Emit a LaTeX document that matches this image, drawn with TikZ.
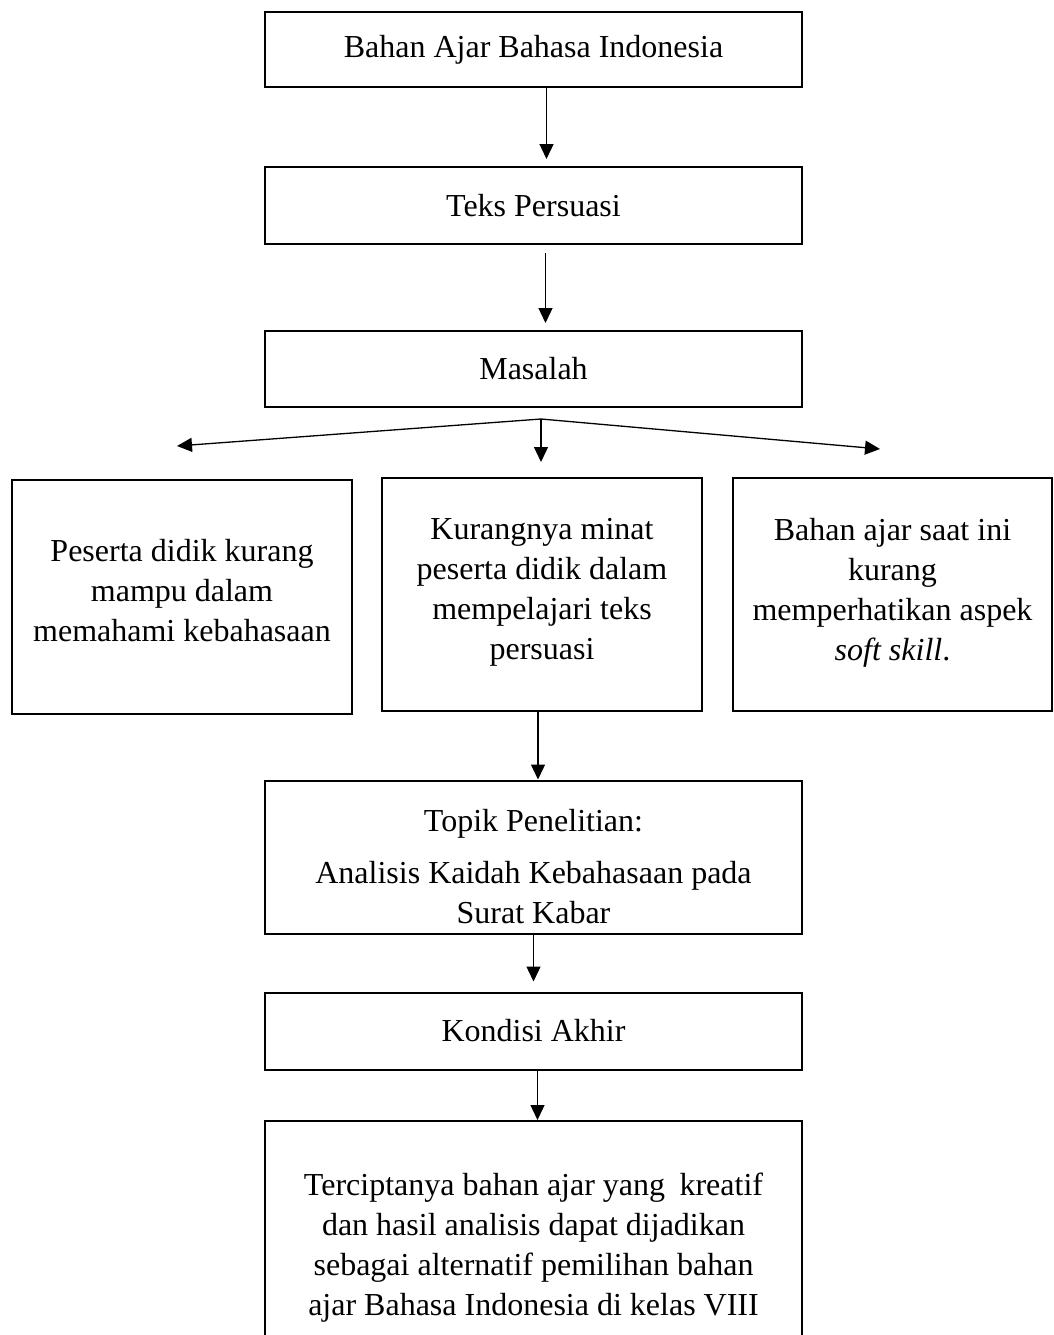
\documentclass[tikz,border=0pt]{standalone}
\usepackage{fontspec}
\setmainfont{Liberation Serif}
\usetikzlibrary{arrows.meta}
\begin{document}
\begin{tikzpicture}[x=1pt,y=-1pt,
  box/.style={draw, line width=2pt, align=center, inner sep=0pt,
    font=\fontsize{32}{40}\selectfont},
  arr/.style={line width=1.3pt, -{Triangle[length=15pt,width=14pt]}}]
\useasboundingbox[fill=white] (0,0) rectangle (1054,1335);
\begin{scope}
\clip (0,0) rectangle (1054,1335);
\node[box, minimum width=537, minimum height=75] (b1) at (533.5,49.5) {Bahan Ajar Bahasa Indonesia};
\node[box, minimum width=537, minimum height=77] (b2) at (533.5,205.5) {Teks Persuasi};
\node[box, minimum width=537, minimum height=76] (b3) at (533.5,369) {Masalah};
\node[box, minimum width=340, minimum height=234] (pl) at (182,597) {Peserta didik kurang\\mampu dalam\\memahami kebahasaan\\[-26pt]\mbox{}};
\node[box, minimum width=320, minimum height=233] (pm) at (542,594) {Kurangnya minat\\peserta didik dalam\\mempelajari teks\\persuasi\\[-30pt]\mbox{}};
\node[box, minimum width=319, minimum height=233] (pr) at (892.5,594) {Bahan ajar saat ini\\kurang\\memperhatikan aspek\\\textit{soft skill}.\\[-30pt]\mbox{}};
\node[box, minimum width=537, minimum height=153] (tp) at (533.5,857) {\mbox{}\\[1pt]Topik Penelitian:\\[12pt]Analisis Kaidah Kebahasaan pada\\Surat Kabar};
\node[box, minimum width=537, minimum height=77] (ka) at (533.5,1031) {Kondisi Akhir};
\node[box, minimum width=537, minimum height=235] (fin) at (533.5,1238.5) {\mbox{}\\[0pt]Terciptanya bahan ajar yang\hspace{0.45em}kreatif\\dan hasil analisis dapat dijadikan\\sebagai alternatif pemilihan bahan\\ajar Bahasa Indonesia di kelas VIII};
\end{scope}
\coordinate (fork) at (541,419);
\coordinate (tl) at (177,446);
\coordinate (tm) at (541,462);
\coordinate (tr) at (880,449);
\draw[arr] ([xshift=13pt]b1.south) -- ([xshift=13pt,yshift=7pt]b2.north);
\draw[arr] ([xshift=12pt,yshift=-8pt]b2.south) -- ([xshift=12pt,yshift=7pt]b3.north);
\draw[arr] (fork) -- (tl);
\draw[arr] (fork) -- (tm);
\draw[arr] (fork) -- (tr);
\draw[arr] ([xshift=-4pt]pm.south) -- ([xshift=4.5pt]tp.north);
\draw[arr] (tp.south) -- ([yshift=10pt]ka.north);
\draw[arr] ([xshift=4pt]ka.south) -- ([xshift=4pt]fin.north);
\end{tikzpicture}
\end{document}
